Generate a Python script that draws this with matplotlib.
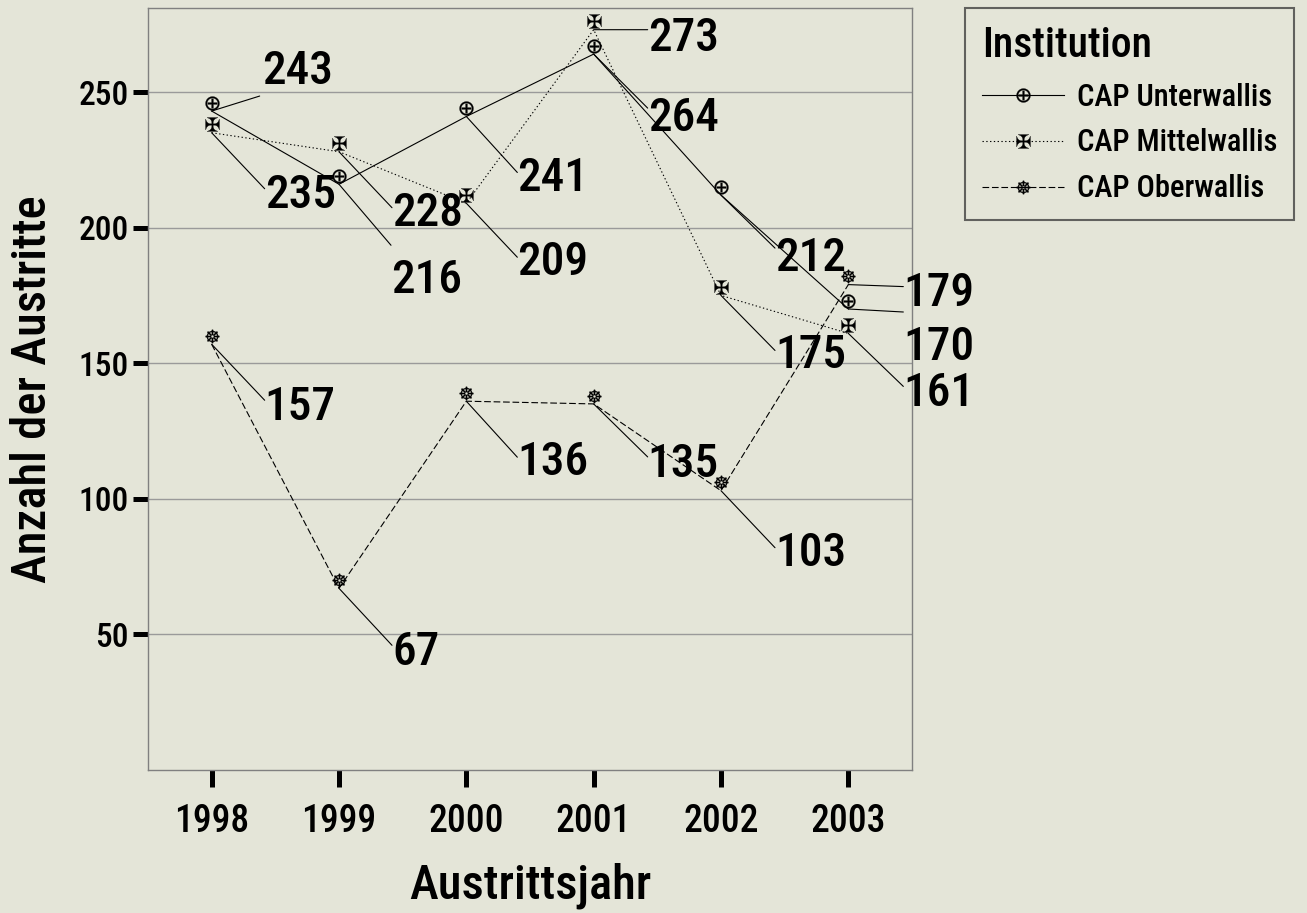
import matplotlib
matplotlib.use("Agg")
import matplotlib.pyplot as plt
from matplotlib import font_manager
from matplotlib.lines import Line2D
from matplotlib.transforms import ScaledTranslation

# data
years = [1998, 1999, 2000, 2001, 2002, 2003]
unterwallis = [243, 216, 241, 264, 212, 170]
mittelwallis = [235, 228, 209, 273, 175, 161]
oberwallis = [157, 67, 136, 135, 103, 179]
series_names = ["CAP Unterwallis", "CAP Mittelwallis", "CAP Oberwallis"]
y_ticks = [50, 100, 150, 200, 250]

# condensed face if we have one
names = {f.name for f in font_manager.fontManager.ttflist}
FONT, STRETCH = "DejaVu Sans", "condensed"
for cand in ["Liberation Sans Narrow", "Roboto Condensed", "Open Sans Condensed"]:
    if cand in names:
        FONT, STRETCH = cand, "normal"
        break
plt.rcParams["font.family"] = [FONT, "DejaVu Sans"]
plt.rcParams["font.stretch"] = STRETCH
plt.rcParams["font.weight"] = "medium"
plt.rcParams["axes.labelweight"] = "medium"
plt.rcParams["mathtext.fontset"] = "dejavusans"

BG = "#e4e5d8"

fig = plt.figure(figsize=(13.07, 9.13), dpi=100, facecolor=BG)
ax = fig.add_axes([148 / 1307, 1 - 770 / 913, (912 - 148) / 1307, (770 - 8) / 913])
ax.set_facecolor(BG)

styles = [
    dict(ls="-", marker="$\u2295$"),
    dict(ls=(0, (1.2, 2.2)), marker="$\u2720$"),
    dict(ls=(0, (6, 2.5)), marker="$\u2638$"),
]
all_series = [unterwallis, mittelwallis, oberwallis]

# SPSS draws the symbols a little above the line vertex
mark_shift = ax.transData + ScaledTranslation(0, 6 / 72, fig.dpi_scale_trans)

for vals, st in zip(all_series, styles):
    ax.plot(years, vals, color="black", lw=0.8, ls=st["ls"], zorder=3)
    ax.plot(years, vals, ls="none", marker=st["marker"], ms=10, mew=0.2,
            color="black", transform=mark_shift, zorder=4)

# leader end (dx, dy) and text offset (dx, dy) in pixels from the vertex
leaders = [
    [(48, 15), (52, -61), (51, -56), (54, -54), (54, -53), (55, -3)],
    [(53, -56), (53, -56), (51, -54), (54, 0), (54, -55), (55, -53)],
    [(53, -56), (53, -57), (51, -56), (54, -53), (54, -57), (55, -2)],
]
text_off = [
    [(50, 40), (52, -96), (51, -62), (54, -64), (54, -63), (55, -38)],
    [(53, -63), (53, -62), (51, -59), (54, -9), (54, -60), (55, -60)],
    [(53, -63), (53, -64), (51, -61), (54, -61), (54, -63), (55, -9)],
]
for vals, lds, tos in zip(all_series, leaders, text_off):
    for x, v, ld, to in zip(years, vals, lds, tos):
        ax.annotate("", xy=(x, v), xytext=ld, textcoords="offset pixels",
                    arrowprops=dict(arrowstyle="-", lw=0.8, color="black",
                                    shrinkA=0, shrinkB=0), annotation_clip=False)
        ax.annotate(str(v), xy=(x, v), xytext=to, textcoords="offset pixels",
                    ha="left", va="center", fontsize=34, annotation_clip=False,
                    zorder=5)

ax.set_xlim(1997.5, 2003.5)
ax.set_ylim(0, 281)
ax.set_xticks(years)
ax.set_yticks(y_ticks)
ax.tick_params(axis="y", length=11, width=3.6, pad=3, labelsize=24, color="black")
ax.tick_params(axis="x", length=12, width=3.6, pad=12, labelsize=27, color="black")
ax.grid(axis="y", color="#9a9a9a", lw=1)
ax.set_axisbelow(True)
for sp in ax.spines.values():
    sp.set_color("#808080")
    sp.set_linewidth(1)

ax.set_xlabel("Austrittsjahr", fontsize=35, labelpad=16)
ax.set_ylabel("Anzahl der Austritte", fontsize=35, labelpad=16)

handles = [Line2D([], [], color="black", lw=0.8, ls=st["ls"], marker=st["marker"],
                  ms=10, mew=0.2) for st in styles]
leg = fig.legend(handles, series_names, loc="upper left",
                 bbox_to_anchor=(965 / 1307, 1 - 8 / 913), borderaxespad=0,
                 fontsize=22, title="Institution", title_fontsize=30,
                 alignment="left", frameon=True, fancybox=False,
                 edgecolor="#404040", facecolor="none", handlelength=2.7,
                 handletextpad=0.4, labelspacing=0.55, borderpad=0.55)
leg.get_frame().set_linewidth(1.5)

fig.savefig("out.png", dpi=100, facecolor=BG)
